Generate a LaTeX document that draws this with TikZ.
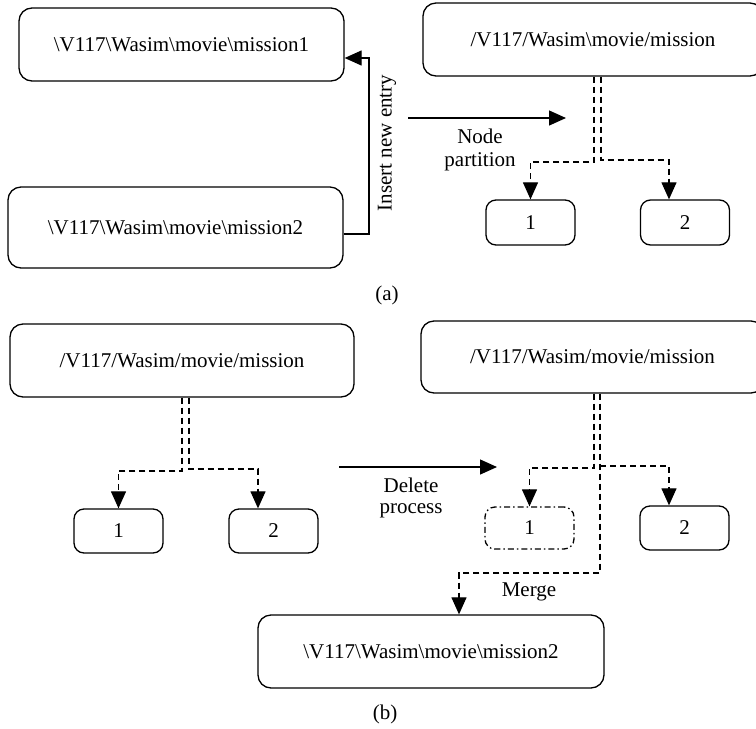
\documentclass[tikz,border=0pt]{standalone}
\usepackage{fontspec}
\setmainfont{Liberation Serif}
\usetikzlibrary{arrows.meta,calc}
\begin{document}
\begin{tikzpicture}[x=1pt,y=-1pt,
  font=\fontsize{21}{25}\selectfont,
  bigbox/.style={draw,rounded corners=13pt,line width=1.3pt,minimum height=73pt,inner sep=0pt},
  smallbox/.style={draw,rounded corners=10pt,line width=1.3pt,minimum width=89pt,minimum height=45pt,inner sep=0pt},
  delbox/.style={smallbox,dash pattern=on 6pt off 3pt on 1.5pt off 3pt},
  tip/.style={-{Triangle[length=17pt,width=15pt]}},
  solidarrow/.style={tip,line width=1.3pt},
  dashline/.style={line width=1.2pt,dash pattern=on 6pt off 4pt},
  dasharrow/.style={dashline,tip},
  lbl/.style={inner sep=0pt}]
\useasboundingbox (0,0) rectangle (756,729);
% ---------- (a) ----------
\node[bigbox,minimum width=325pt] (A1) at (181.5,44.5) {\textbackslash V117\textbackslash Wasim\textbackslash movie\textbackslash mission1};
\node[bigbox,minimum width=335pt,minimum height=81pt] (A2) at (175.5,227.5) {\textbackslash V117\textbackslash Wasim\textbackslash movie\textbackslash mission2};
\node[bigbox,minimum width=340pt] (A3) at (593,39.5) {/V117/Wasim\textbackslash movie/mission};
\node[smallbox] (a1) at (530.5,222.5) {1};
\node[smallbox] (a2) at (685,222.5) {2};
\coordinate (ins) at (369,58);
\draw[solidarrow] ([yshift=-6.5pt]A2.east) -| (ins) -- (A1.east |- ins);
\node[lbl,rotate=90] (instxt) at (387,143) {Insert new entry};
\coordinate (npS) at (408,118);
\coordinate (npE) at (566,118);
\draw[solidarrow] (npS) -- (npE);
\node[lbl] (np1) at (480,136) {Node};
\node[lbl] (np2) at (480,162) {partition};
\coordinate (aL) at (594,162);
\coordinate (aR) at (601,160);
\draw[dasharrow] (A3.south -| aL) -- (aL) -| (a1.north);
\draw[dasharrow] (A3.south -| aR) -- (aR) -| ([xshift=-16pt]a2.north);
\node[lbl] (lblA) at (387,295) {(a)};
% ---------- (b) ----------
\node[bigbox,minimum width=344pt] (B1) at (182,360.5) {/V117/Wasim/movie/mission};
\node[bigbox,minimum width=343pt,minimum height=72pt] (B2) at (592.5,357) {/V117/Wasim/movie/mission};
\node[smallbox,minimum height=44pt] (b1) at (118.5,531) {1};
\node[smallbox,minimum height=44pt] (b2) at (273.5,531) {2};
\node[delbox,minimum height=42pt] (c1) at (529.5,528) {1};
\node[smallbox,minimum height=44pt] (c2) at (684.5,528) {2};
\node[bigbox,minimum width=346pt] (M) at (431,651.5) {\textbackslash V117\textbackslash Wasim\textbackslash movie\textbackslash mission2};
\coordinate (bL) at (182,471);
\coordinate (bR) at (189,469);
\draw[dasharrow] (B1.south -| bL) -- (bL) -| (b1.north);
\draw[dasharrow] (B1.south -| bR) -- (bR) -| ([xshift=-15.5pt]b2.north);
\coordinate (dpS) at (339,467);
\coordinate (dpE) at (497,467);
\draw[solidarrow] (dpS) -- (dpE);
\node[lbl] (dp1) at (411,485) {Delete};
\node[lbl] (dp2) at (411,511) {process};
\coordinate (cL) at (594,468);
\coordinate (cR) at (600,466);
\coordinate (cM) at (600,573);
\draw[dasharrow] (B2.south -| cL) -- (cL) -| (c1.north);
\draw[dasharrow] (B2.south -| cR) -- (cM) -| ([xshift=28pt]M.north);
\draw[dasharrow] (cR) -| ([xshift=-15.5pt]c2.north);
\node[lbl] (mg) at (529,592) {Merge};
\node[lbl] (lblB) at (385,714) {(b)};
\end{tikzpicture}
\end{document}
